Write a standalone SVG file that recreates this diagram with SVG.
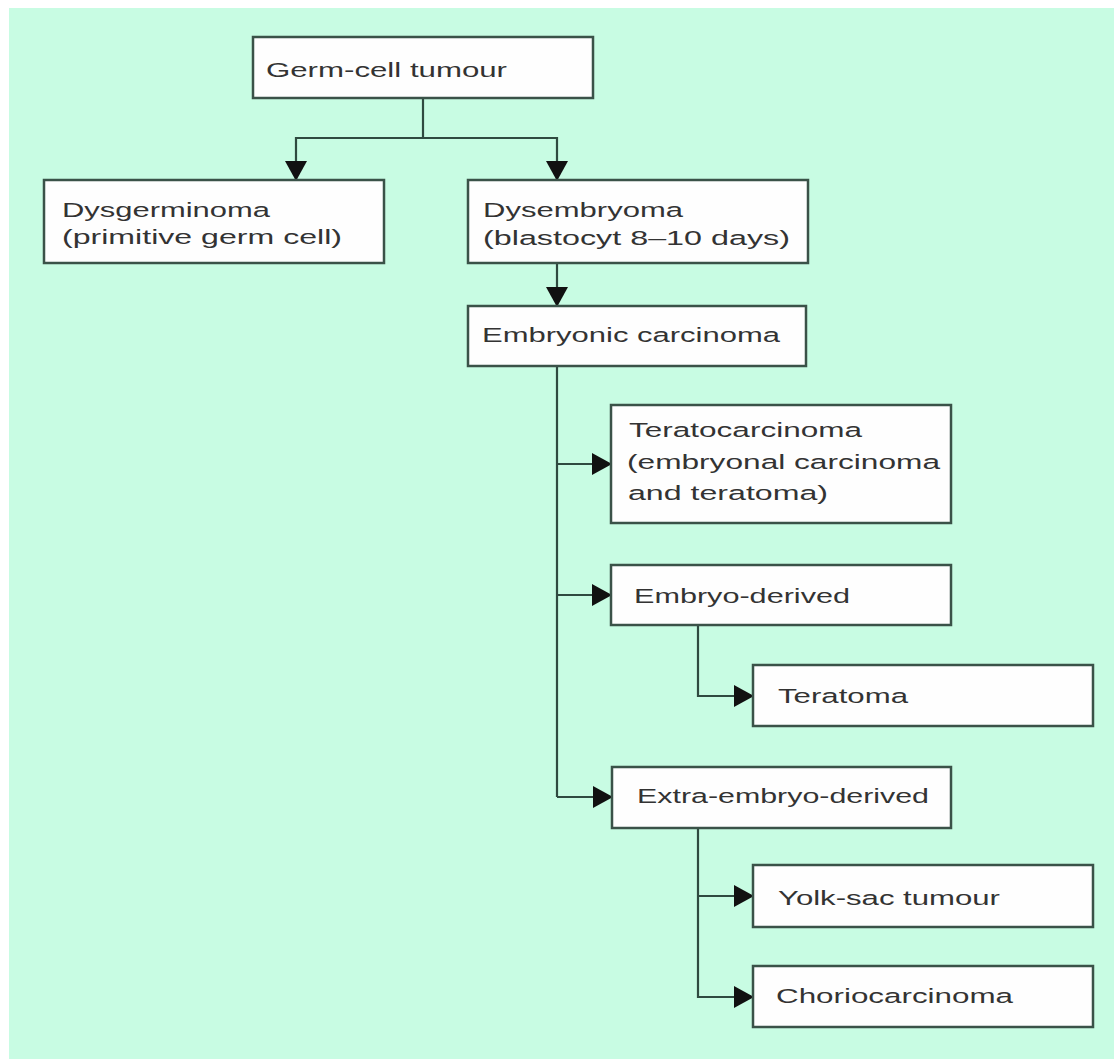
<svg xmlns="http://www.w3.org/2000/svg" width="1114" height="1059" viewBox="0 0 1114 1059">
<style>
.bg{fill:#c8fce3}
.box{fill:#fefefe;stroke:#3a5248;stroke-width:2.5}
.lbl{font-family:"Liberation Sans",Arial,sans-serif;font-size:20.5px;fill:#333}
.con{fill:none;stroke:#2f4a40;stroke-width:2.2}
</style>
<defs>
<marker id="ah" markerUnits="userSpaceOnUse" markerWidth="20" markerHeight="22" refX="19" refY="11" orient="auto">
<path d="M0,0 L20,11 L0,22 z" fill="#111"/>
</marker>
</defs>
<rect x="0" y="0" width="1114" height="1059" fill="#ffffff"/>
<rect class="bg" x="9" y="8" width="1105" height="1051"/>
<g id="connectors">
<path class="con" d="M423,98 V138"/>
<path class="con" d="M423,138 H296 V180" marker-end="url(#ah)"/>
<path class="con" d="M423,138 H557 V180" marker-end="url(#ah)"/>
<path class="con" d="M557,263 V306" marker-end="url(#ah)"/>
<path class="con" d="M557,366 V797"/>
<path class="con" d="M557,464 H611" marker-end="url(#ah)"/>
<path class="con" d="M557,595 H611" marker-end="url(#ah)"/>
<path class="con" d="M557,797 H612" marker-end="url(#ah)"/>
<path class="con" d="M698,625 V696 H753" marker-end="url(#ah)"/>
<path class="con" d="M698,828 V997 H753" marker-end="url(#ah)"/>
<path class="con" d="M698,896 H753" marker-end="url(#ah)"/>
</g>
<g id="n-germ">
<rect class="box" x="253" y="37" width="340" height="61"/>
<text class="lbl" x="266" y="77" textLength="241" lengthAdjust="spacingAndGlyphs">Germ-cell tumour</text>
</g>
<g id="n-dysgerminoma">
<rect class="box" x="44" y="180" width="340" height="83"/>
<text class="lbl" x="62" y="217" textLength="208" lengthAdjust="spacingAndGlyphs">Dysgerminoma</text>
<text class="lbl" x="62" y="244" textLength="280" lengthAdjust="spacingAndGlyphs">(primitive germ cell)</text>
</g>
<g id="n-dysembryoma">
<rect class="box" x="468" y="180" width="340" height="83"/>
<text class="lbl" x="483" y="217" textLength="200" lengthAdjust="spacingAndGlyphs">Dysembryoma</text>
<text class="lbl" x="483" y="245" textLength="307" lengthAdjust="spacingAndGlyphs">(blastocyt 8–10 days)</text>
</g>
<g id="n-embryonic">
<rect class="box" x="468" y="306" width="338" height="60"/>
<text class="lbl" x="482" y="342" textLength="298" lengthAdjust="spacingAndGlyphs">Embryonic carcinoma</text>
</g>
<g id="n-teratocarcinoma">
<rect class="box" x="611" y="405" width="340" height="118"/>
<text class="lbl" x="629" y="437" textLength="233" lengthAdjust="spacingAndGlyphs">Teratocarcinoma</text>
<text class="lbl" x="627" y="469" textLength="313" lengthAdjust="spacingAndGlyphs">(embryonal carcinoma</text>
<text class="lbl" x="628" y="500" textLength="200" lengthAdjust="spacingAndGlyphs">and teratoma)</text>
</g>
<g id="n-embryo-derived">
<rect class="box" x="611" y="565" width="340" height="60"/>
<text class="lbl" x="634" y="603" textLength="216" lengthAdjust="spacingAndGlyphs">Embryo-derived</text>
</g>
<g id="n-teratoma">
<rect class="box" x="753" y="665" width="340" height="61"/>
<text class="lbl" x="778" y="703" textLength="130" lengthAdjust="spacingAndGlyphs">Teratoma</text>
</g>
<g id="n-extra-embryo-derived">
<rect class="box" x="612" y="767" width="339" height="61"/>
<text class="lbl" x="637" y="803" textLength="292" lengthAdjust="spacingAndGlyphs">Extra-embryo-derived</text>
</g>
<g id="n-yolk-sac">
<rect class="box" x="753" y="865" width="340" height="62"/>
<text class="lbl" x="778" y="905" textLength="222" lengthAdjust="spacingAndGlyphs">Yolk-sac tumour</text>
</g>
<g id="n-choriocarcinoma">
<rect class="box" x="753" y="966" width="340" height="61"/>
<text class="lbl" x="776" y="1003" textLength="237" lengthAdjust="spacingAndGlyphs">Choriocarcinoma</text>
</g>
</svg>
